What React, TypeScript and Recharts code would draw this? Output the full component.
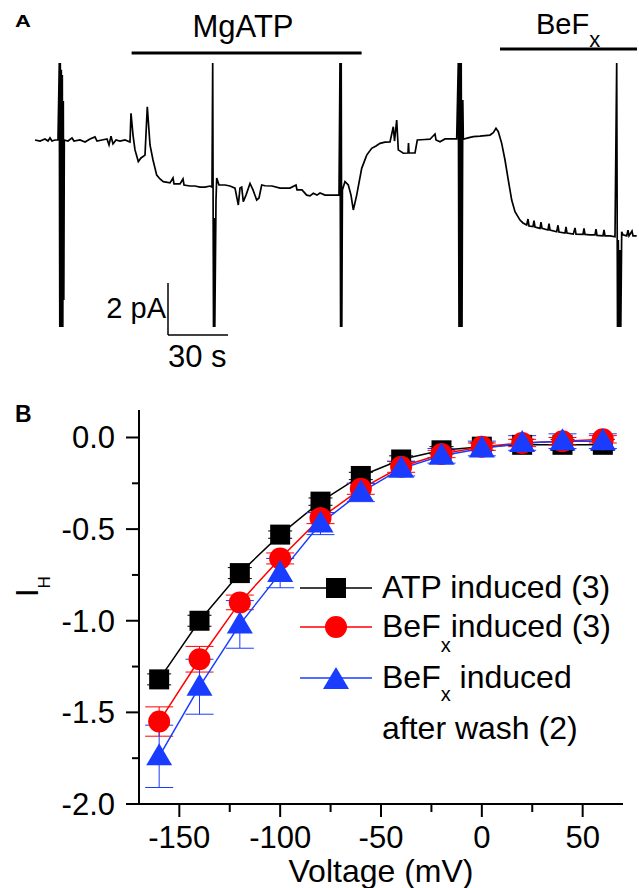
import React from 'react';
import { LineChart, Line, XAxis, YAxis, ReferenceLine, ErrorBar, Legend } from 'recharts';

const FONT = '"Liberation Sans", Arial, Helvetica, sans-serif';

// ---- panel A: current trace (time in s, current in pA) ----
const traceTime = [
  0, 2.5, 5, 6.5, 7.5, 8.5, 10, 11.5, 12.15, 12.4,
  12.65, 12.9, 13.15, 13.4, 13.65, 13.9, 14.15, 14.4, 14.65, 16.5,
  18.5, 19.5, 22.5, 25, 27.5, 30, 31, 33.5, 36, 37,
  38, 39, 40.5, 42.5, 45, 47.5, 48, 49, 50, 51.65,
  53, 55, 56.15, 57.5, 59, 60.85, 62.5, 64.15, 67.5, 69,
  69.5, 72.5, 74, 74.5, 77.5, 80, 82.5, 85, 87.5, 88.5,
  88.85, 89.25, 89.6, 89.9, 90.5, 90.85, 92, 95, 97.5, 100,
  101.65, 102.5, 103.35, 104.15, 105.5, 107.5, 109, 110.85, 112, 113.35,
  115, 118.5, 122.5, 127.5, 130.5, 131, 133.5, 135.85, 137.5, 139.15,
  141, 142.5, 145, 149, 152, 152.5, 152.8, 153.1, 153.4, 153.7,
  155, 156.65, 158, 159.15, 160.85, 163.35, 165.85, 168.35, 170.5, 172.5,
  175, 177.5, 179.15, 179.75, 180.85, 181.65, 184.15, 186.5, 186.75, 187,
  190, 191.15, 195, 197.5, 200, 200.5, 202.5, 205, 207.5, 210.85,
  211.65, 212, 212.4, 212.75, 213.1, 213.5, 213.9, 214.15, 216.5, 219.15,
  222.5, 225, 227.5, 229.15, 230.5, 231.65, 233.35, 235, 236.65, 238.35,
  240, 242.5, 244, 245.85, 246.5, 247, 249, 249.5, 250, 252.5,
  253, 253.5, 256.5, 257, 257.5, 260.85, 261.5, 262, 265, 265.5,
  266, 269.15, 270, 270.5, 274, 274.5, 275, 277.5, 280, 280.5,
  281, 284, 284.5, 285, 287.5, 290, 290.85, 291.25, 291.65, 292.1,
  292.5, 292.9, 293.35, 294, 295.85, 296.5, 297, 298.5, 299, 300.85,
];
const traceCurrent = [
  0, -0.04, 0.04, -0.04, 0.08, -0.04, 0, 0, 2.96, -7.19,
  2.96, -7.19, 2.7, -7.19, 2.5, -7.19, 1.5, -6.15, 0, -0.04,
  0.08, -0.04, 0, -0.08, 0.04, 0.12, -0.04, 0, 0.04, -0.19,
  0.15, -0.15, 0, -0.04, 0, -0.08, 1.03, 0.19, -0.38, -0.83,
  -0.69, -0.58, 1.28, -0.19, -0.77, -1.35, -1.5, -1.6, -1.65, -1.46,
  -1.69, -1.69, -1.5, -1.73, -1.77, -1.77, -1.81, -1.81, -1.77, -1.81,
  2.96, -7.19, -3.0, -7.19, -2.31, -1.46, -1.73, -1.73, -1.77, -1.85,
  -2.5, -1.85, -1.81, -2.37, -2.12, -1.67, -1.92, -2.31, -2.23, -1.73,
  -1.76, -1.77, -1.85, -1.85, -1.73, -1.92, -1.92, -2.12, -2.15, -2.05,
  -2.12, -2.04, -2.12, -2.12, -2.12, 2.96, -7.19, 2.96, -7.19, -1.92,
  -1.6, -1.73, -2.12, -2.69, -2.12, -1.09, -0.58, -0.32, -0.23, -0.13,
  -0.08, -0.07, 0.51, -0.04, 0.77, -0.38, -0.51, -0.5, -0.12, -0.5,
  -0.5, 0, 0.02, 0.03, 0.23, 0, -0.07, 0.04, 0.04, 0.04,
  2.96, -7.19, 2.96, -7.19, 2.96, -7.19, 1.54, 0.03, 0.08, 0.13,
  0.15, 0.17, 0.19, 0.28, 0.45, 0.32, -0.13, -0.77, -1.54, -2.31,
  -2.76, -3.08, -3.19, -3.27, -3.04, -3.31, -3.33, -3.1, -3.35, -3.4,
  -3.16, -3.4, -3.46, -3.22, -3.46, -3.53, -3.28, -3.54, -3.58, -3.34,
  -3.58, -3.62, -3.38, -3.62, -3.63, -3.4, -3.63, -3.65, -3.65, -3.43,
  -3.67, -3.69, -3.46, -3.69, -3.69, -3.72, 2.96, -7.19, -3.85, -7.19,
  -4.23, -7.19, -3.53, -3.65, -3.69, -3.47, -3.69, -3.5, -3.69, -3.69,
];
// application periods (s) and level of the bars (pA)
const mgAtpPeriod = [48.3, 163.3];
const mgAtpLevel = 3.35;
const befxPeriod = [232.5, 301];
const befxLevel = 3.5;
// scale bar: 30 s / 2 pA
const scaleOrigin = { t: 66.5, i: -7.5 };
const scaleSeconds = 30;
const scalePicoamps = 2;

// ---- panel B: I-V curves ----
const voltages = [-160, -140, -120, -100, -80, -60, -40, -20, 0, 20, 40, 60];
const atpInduced = [-1.32, -1.0, -0.74, -0.53, -0.35, -0.21, -0.12, -0.07, -0.05, -0.04, -0.04, -0.04];
const atpErr = [0.03, 0.03, 0.03, 0.02, 0.02, 0.02, 0.02, 0.02, 0.02, 0.03, 0.03, 0.03];
const befxInduced = [-1.55, -1.21, -0.9, -0.66, -0.44, -0.28, -0.16, -0.09, -0.05, -0.03, -0.02, -0.01];
const befxErr = [0.08, 0.07, 0.04, 0.03, 0.03, 0.03, 0.03, 0.02, 0.02, 0.02, 0.02, 0.02];
const afterWash = [-1.74, -1.36, -1.02, -0.74, -0.47, -0.3, -0.17, -0.1, -0.06, -0.03, -0.02, -0.02];
const washErr = [0.17, 0.15, 0.13, 0.08, 0.06, 0.05, 0.04, 0.04, 0.04, 0.04, 0.04, 0.04];
const xTicks = [-150, -125, -100, -75, -50, -25, 0, 25, 50];
const yTicks = [-2, -1.75, -1.5, -1.25, -1, -0.75, -0.5, -0.25, 0];

const RED = '#ff0000';
const BLUE = '#1a3cff';

const traceData = traceTime.map((t, k) => ({ t, i: traceCurrent[k] }));
const ivData = voltages.map((v, k) => ({
  v,
  atp: atpInduced[k],
  atpErr: atpErr[k],
  befx: befxInduced[k],
  befxErr: befxErr[k],
  wash: afterWash[k],
  washErr: washErr[k],
}));

function Square({ cx, cy, color }: any) {
  return <rect x={cx - 10} y={cy - 10} width={20} height={20} fill={color} />;
}
function Circle({ cx, cy, color }: any) {
  return <circle cx={cx} cy={cy} r={11} fill={color} />;
}
function Triangle({ cx, cy, color }: any) {
  return <polygon points={`${cx},${cy - 13} ${cx - 13},${cy + 9} ${cx + 13},${cy + 9}`} fill={color} />;
}

function XTick({ x, y, payload }: any) {
  const major = payload.value % 50 === 0;
  return (
    <g>
      <line x1={x} x2={x} y1={y} y2={y + (major ? 13 : 8)} stroke="#000" strokeWidth={2} />
      {major && (
        <text x={x} y={y + 44} textAnchor="middle" fontSize={31} fontFamily={FONT} fill="#000">
          {payload.value}
        </text>
      )}
    </g>
  );
}

function YTick({ x, y, payload }: any) {
  const v = payload.value;
  const major = Math.abs(v * 2 - Math.round(v * 2)) < 1e-6;
  return (
    <g>
      <line x1={x - (major ? 13 : 7)} x2={x} y1={y} y2={y} stroke="#000" strokeWidth={2} />
      {major && (
        <text x={x - 24} y={y + 11} textAnchor="end" fontSize={31} fontFamily={FONT} fill="#000">
          {v.toFixed(1)}
        </text>
      )}
    </g>
  );
}

function IVLegend() {
  const txt = { fontSize: 32, fontFamily: FONT, fill: '#000' };
  return (
    <svg width={340} height={190} style={{ display: 'block', overflow: 'visible' }}>
      <line x1={5} x2={77} y1={28} y2={28} stroke="#000" strokeWidth={1.5} />
      <Square cx={41} cy={28} color="#000" />
      <text x={87} y={38} {...txt}>ATP induced (3)</text>

      <line x1={5} x2={77} y1={67} y2={67} stroke={RED} strokeWidth={1.5} />
      <Circle cx={41} cy={67} color={RED} />
      <text x={87} y={77} {...txt}>
        BeF<tspan fontSize={20} dy={15}>x</tspan>
        <tspan dy={-15}>induced (3)</tspan>
      </text>

      <line x1={5} x2={77} y1={118} y2={118} stroke={BLUE} strokeWidth={1.5} />
      <Triangle cx={41} cy={120} color={BLUE} />
      <text x={87} y={128} {...txt}>
        BeF<tspan fontSize={20} dy={13}>x</tspan>
        <tspan dy={-13}> induced</tspan>
      </text>
      <text x={87} y={179} {...txt}>after wash (2)</text>
    </svg>
  );
}

export default function App(): React.ReactElement {
  const txt = { fontFamily: FONT, fill: '#000' };
  return (
    <div style={{ position: 'absolute', left: 0, top: 0, width: 639, height: 888, background: '#fff' }}>
      {/* panel A */}
      <div style={{ position: 'absolute', left: 0, top: 0 }}>
        <LineChart width={639} height={380} data={traceData} margin={{ top: 0, right: 0, bottom: 0, left: 0 }}>
          <XAxis type="number" dataKey="t" domain={[-17.5, 302]} allowDataOverflow hide />
          <YAxis type="number" domain={[-9.2308, 5.3846]} allowDataOverflow hide />
          <Line
            type="linear"
            dataKey="i"
            stroke="#000"
            strokeWidth={1.7}
            dot={false}
            activeDot={false}
            isAnimationActive={false}
          />
          <ReferenceLine
            segment={[{ x: mgAtpPeriod[0], y: mgAtpLevel }, { x: mgAtpPeriod[1], y: mgAtpLevel }]}
            stroke="#000"
            strokeWidth={3}
            ifOverflow="visible"
          />
          <ReferenceLine
            segment={[{ x: befxPeriod[0], y: befxLevel }, { x: befxPeriod[1], y: befxLevel }]}
            stroke="#000"
            strokeWidth={3}
            ifOverflow="visible"
          />
          <ReferenceLine
            segment={[
              { x: scaleOrigin.t, y: scaleOrigin.i + scalePicoamps },
              { x: scaleOrigin.t, y: scaleOrigin.i },
            ]}
            stroke="#000"
            strokeWidth={1.5}
            ifOverflow="visible"
          />
          <ReferenceLine
            segment={[
              { x: scaleOrigin.t, y: scaleOrigin.i },
              { x: scaleOrigin.t + scaleSeconds, y: scaleOrigin.i },
            ]}
            stroke="#000"
            strokeWidth={1.5}
            ifOverflow="visible"
          />
        </LineChart>
      </div>

      {/* panel B */}
      <div style={{ position: 'absolute', left: 0, top: 380 }}>
        <LineChart width={639} height={508} data={ivData} margin={{ top: 30, right: 16, bottom: 0, left: 0 }}>
          <XAxis
            type="number"
            dataKey="v"
            domain={[-170, 70]}
            ticks={xTicks}
            interval={0}
            allowDataOverflow
            height={84}
            tickSize={0}
            tickMargin={0}
            tickLine={false}
            axisLine={{ stroke: '#000', strokeWidth: 2 }}
            tick={<XTick />}
          />
          <YAxis
            type="number"
            domain={[-2, 0.15]}
            ticks={yTicks}
            interval={0}
            allowDataOverflow
            width={139}
            tickSize={0}
            tickMargin={0}
            tickLine={false}
            axisLine={{ stroke: '#000', strokeWidth: 2 }}
            tick={<YTick />}
          />
          <Legend
            layout="vertical"
            align="center"
            verticalAlign="middle"
            wrapperStyle={{ position: 'absolute', left: 295, top: 180, width: 340, height: 190 }}
            content={() => <IVLegend />}
          />
          <Line
            type="linear"
            dataKey="atp"
            stroke="#000"
            strokeWidth={1.5}
            isAnimationActive={false}
            dot={(p: any) => <Square key={`a${p.index}`} cx={p.cx} cy={p.cy} color="#000" />}
          >
            <ErrorBar dataKey="atpErr" direction="y" width={12} stroke="#000" strokeWidth={1} />
          </Line>
          <Line
            type="linear"
            dataKey="befx"
            stroke={RED}
            strokeWidth={1.5}
            isAnimationActive={false}
            dot={(p: any) => <Circle key={`b${p.index}`} cx={p.cx} cy={p.cy} color={RED} />}
          >
            <ErrorBar dataKey="befxErr" direction="y" width={14} stroke={RED} strokeWidth={1} />
          </Line>
          <Line
            type="linear"
            dataKey="wash"
            stroke={BLUE}
            strokeWidth={1.5}
            isAnimationActive={false}
            dot={(p: any) => <Triangle key={`c${p.index}`} cx={p.cx} cy={p.cy} color={BLUE} />}
          >
            <ErrorBar dataKey="washErr" direction="y" width={14} stroke={BLUE} strokeWidth={1} />
          </Line>
        </LineChart>
      </div>

      {/* static labels */}
      <svg
        width={639}
        height={888}
        style={{ position: 'absolute', left: 0, top: 0, pointerEvents: 'none' }}
      >
        <text transform="translate(15, 27) scale(1, 0.75)" x={0} y={0} fontSize={22} fontWeight="bold" {...txt}>
          A
        </text>
        <text x={243} y={37} textAnchor="middle" fontSize={31} {...txt}>MgATP</text>
        <text x={536} y={34} fontSize={29} {...txt}>
          BeF<tspan fontSize={22} dy={12.5}>x</tspan>
        </text>
        <text x={166} y={318} textAnchor="end" fontSize={29} {...txt}>2 pA</text>
        <text x={168} y={367} fontSize={31} {...txt}>30 s</text>

        <text x={15} y={421.5} fontSize={23} fontWeight="bold" {...txt}>B</text>
        <g transform="translate(38, 597) rotate(-90)">
          <text x={0} y={0} fontSize={31} {...txt}>
            I<tspan fontSize={17} dy={12}>H</tspan>
          </text>
        </g>
        <text x={381} y={882} textAnchor="middle" fontSize={32} {...txt}>Voltage (mV)</text>
      </svg>
    </div>
  );
}
